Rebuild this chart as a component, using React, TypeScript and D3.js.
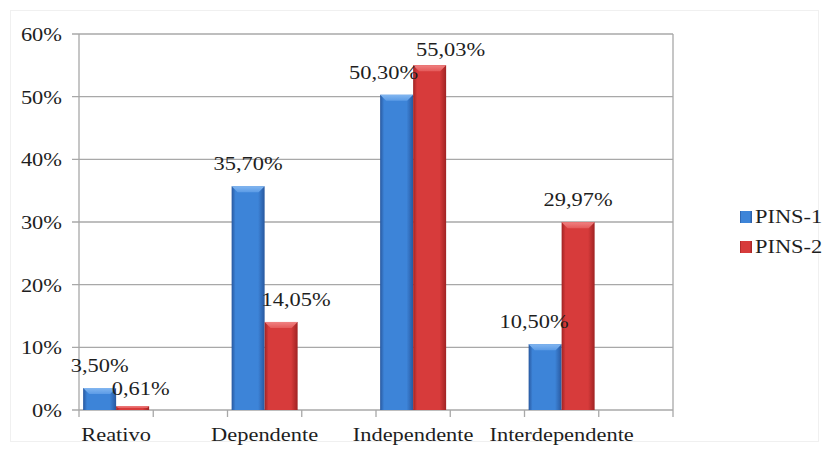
import * as d3 from 'd3'

const categories = ['Reativo', 'Dependente', 'Independente', 'Interdependente']
const seriesNames = ['PINS-1', 'PINS-2']
const pins1 = [0.035, 0.357, 0.503, 0.105]
const pins2 = [0.0061, 0.1405, 0.5503, 0.2997]
const pins1Labels = ['3,50%', '35,70%', '50,30%', '10,50%']
const pins2Labels = ['0,61%', '14,05%', '55,03%', '29,97%']
const yTicks = [0, 0.1, 0.2, 0.3, 0.4, 0.5, 0.6]

// hand-moved data labels in the original, [dx, dy] per series/category
const labelNudge = [
  [[0, 0], [0, 0], [-13, 0], [-11, 0]],
  [[8, 5], [15, 0], [21, 7], [0, 0]],
]

const W = 829
const H = 452
const left = 79
const right = 673
const top = 34
const bottom = 410
const sx = 1.15
const font = "'Liberation Serif', 'Times New Roman', serif"
const textColor = '#1e1e1e'
const gridColor = '#a8a8a8'

const palettes = [
  { edge: '#28589f', mid: '#3d84d8', light: '#82b6f0', top: '#5b9be6' },
  { edge: '#a02323', mid: '#d73b3b', light: '#f08282', top: '#e45a5a' },
]

function SText({ x, y, anchor = 'start', children, size = 19.5 }: any) {
  return (
    <text
      transform={`translate(${x},${y}) scale(${sx},1)`}
      textAnchor={anchor}
      style={{ fontFamily: font, fontSize: size }}
      fill={textColor}
    >
      {children}
    </text>
  )
}

export default function App() {
  const slots = categories.flatMap((c, i) => [c, `__gap${i}`])

  const x0 = d3.scaleBand<string>().domain(slots).range([left, right]).padding(0)
  const x1 = d3.scaleBand<string>()
    .domain(seriesNames)
    .range([0, x0.bandwidth()])
    .paddingInner(0)
    .paddingOuter(0.125)
  const y = d3.scaleLinear().domain([0, 0.6]).range([bottom, top])
  const fmt = d3.format('.0%')

  const series = [pins1, pins2]
  const labels = [pins1Labels, pins2Labels]
  const bevel = 6

  return (
    <svg
      width={W}
      height={H}
      style={{ position: 'absolute', left: 0, top: 0, background: '#fff' }}
    >
      <defs>
        {palettes.map((p, i) => (
          <g key={i}>
            <linearGradient id={`bar${i}`} x1="0" x2="1" y1="0" y2="0">
              <stop offset="0%" stopColor={p.edge} />
              <stop offset="12%" stopColor={p.mid} />
              <stop offset="80%" stopColor={p.mid} />
              <stop offset="100%" stopColor={p.edge} />
            </linearGradient>
            <linearGradient id={`top${i}`} x1="0" x2="0" y1="0" y2="1">
              <stop offset="0%" stopColor={p.light} />
              <stop offset="100%" stopColor={p.top} />
            </linearGradient>
          </g>
        ))}
      </defs>

      <rect x={10.5} y={10.5} width={W - 21} height={H - 21} fill="none" stroke="#f0f0f0" />

      {/* gridlines and y ticks */}
      {yTicks.map(t => (
        <g key={t}>
          <line x1={left - 7} x2={right} y1={y(t)} y2={y(t)} stroke={gridColor} strokeWidth={1.3} />
          <SText x={left - 17} y={y(t) + 7} anchor="end">{fmt(t)}</SText>
        </g>
      ))}

      {/* axes */}
      <line x1={left} x2={left} y1={top} y2={bottom} stroke={gridColor} strokeWidth={1.3} />
      <line x1={right} x2={right} y1={top} y2={bottom} stroke={gridColor} strokeWidth={1.3} />
      {slots.concat(['__end']).map((s, i) => {
        const xx = i < slots.length ? x0(s)! : right
        return (
          <line key={s} x1={xx} x2={xx} y1={bottom} y2={bottom + 7} stroke={gridColor} strokeWidth={1.3} />
        )
      })}

      {/* bars */}
      {categories.map((c, ci) =>
        seriesNames.map((sn, si) => {
          const v = series[si][ci]
          const bx = x0(c)! + x1(sn)!
          const bw = x1.bandwidth()
          const by = y(v)
          const bh = bottom - by
          const bv = Math.min(bevel, bh / 2)
          return (
            <g key={`${c}-${sn}`}>
              <rect x={bx} y={by} width={bw} height={bh} fill={`url(#bar${si})`} />
              <polygon
                points={`${bx},${by} ${bx + bw},${by} ${bx + bw - bv},${by + bv} ${bx + bv},${by + bv}`}
                fill={`url(#top${si})`}
              />
            </g>
          )
        })
      )}

      {/* data labels */}
      {categories.map((c, ci) =>
        seriesNames.map((sn, si) => {
          const [dx, dy] = labelNudge[si][ci]
          const cx = x0(c)! + x1(sn)! + x1.bandwidth() / 2
          return (
            <SText key={`l-${c}-${sn}`} x={cx + dx} y={y(series[si][ci]) - 16 + dy} anchor="middle">
              {labels[si][ci]}
            </SText>
          )
        })
      )}

      {/* category labels */}
      {categories.map(c => (
        <SText key={`c-${c}`} x={x0(c)! + x0.bandwidth() / 2} y={441} anchor="middle">{c}</SText>
      ))}

      {/* legend */}
      {seriesNames.map((sn, i) => {
        const ly = 211 + i * 30
        return (
          <g key={`lg-${sn}`}>
            <rect x={740} y={ly} width={12} height={12} fill={`url(#bar${i})`} />
            <rect x={742} y={ly + 2} width={8} height={8} fill={palettes[i].mid} />
            <SText x={755} y={ly + 12}>{sn}</SText>
          </g>
        )
      })}
    </svg>
  )
}
